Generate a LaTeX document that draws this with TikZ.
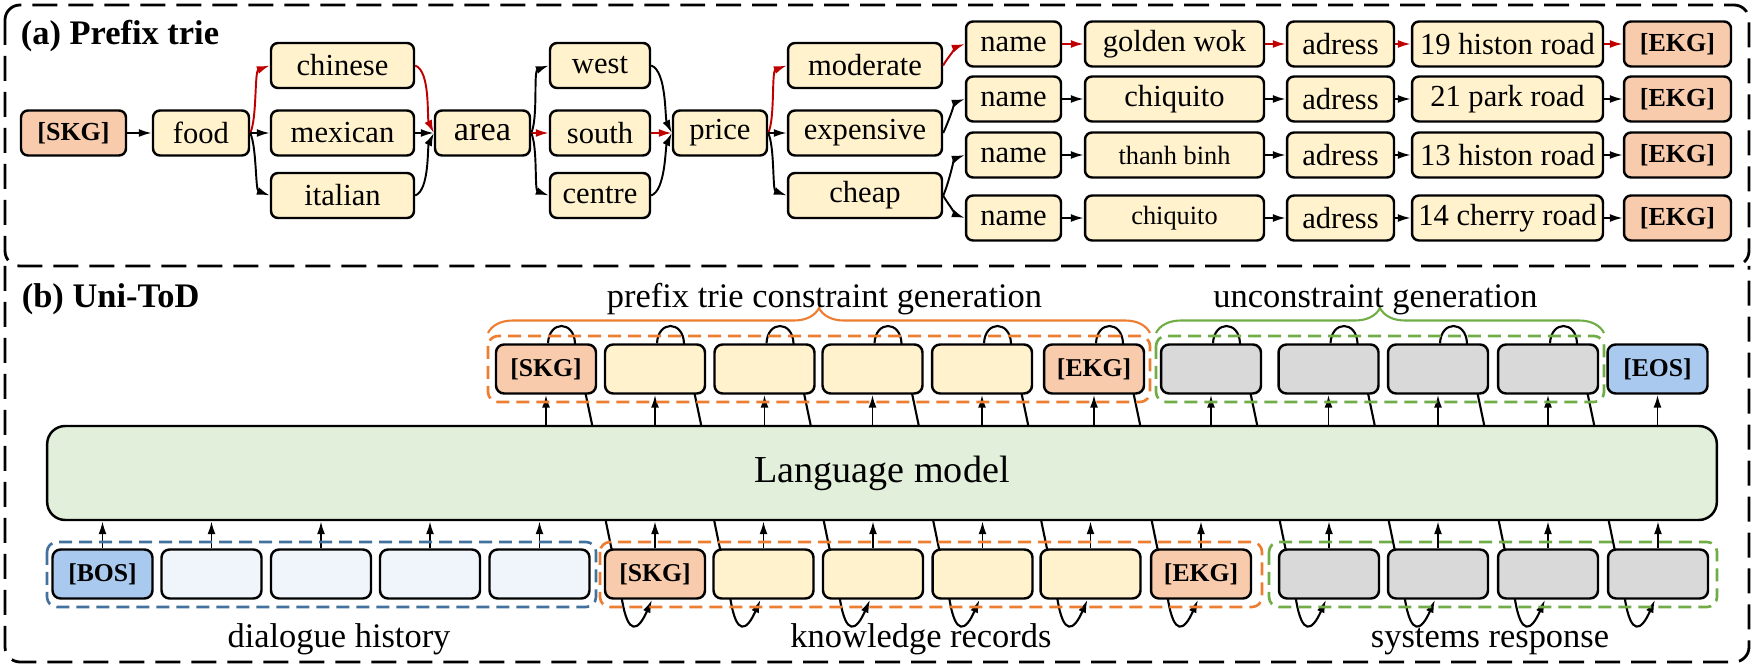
\documentclass[tikz,border=0pt]{standalone}
\usepackage{fontspec}
\setmainfont{Liberation Serif}
\usetikzlibrary{arrows.meta, calc, backgrounds, decorations.pathreplacing}
\tikzset{
every picture/.style={
line width=1pt
}}
\definecolor{trieyellow}{HTML}{FFF2CC}
\definecolor{tagsalmon}{HTML}{F8CBAD}
\definecolor{lmgreen}{HTML}{E2EFDA}
\definecolor{eosblue}{HTML}{A9C9EF}
\definecolor{histblue}{HTML}{F0F5FC}
\definecolor{tokgray}{HTML}{D9D9D9}
\definecolor{grporange}{HTML}{ED7D31}
\definecolor{grpgreen}{HTML}{70AD47}
\definecolor{grpblue}{HTML}{41719C}
\definecolor{pathred}{HTML}{C00000}

\begin{document}
\begin{tikzpicture}[x=0.02cm, y=-0.02cm,
trie/.style = {rectangle, draw=black, line width=1.4pt, rounded corners=0.14cm, fill=trieyellow, minimum height=0.9cm, inner sep=0pt, font=\fontsize{17.4}{20}\selectfont},
tag/.style = {trie, fill=tagsalmon, font=\bfseries\fontsize{14.8}{17}\selectfont},
tok/.style = {rectangle, draw=black, line width=1.4pt, rounded corners=0.16cm, minimum width=2cm, minimum height=0.98cm, inner sep=0pt, font=\bfseries\fontsize{14.6}{17}\selectfont},
arr/.style = {-{Latex[length=0.26cm,width=0.16cm]}, line width=1.1pt},
fanup/.style = {out=65, in=200, looseness=0.6},
fandown/.style = {out=-65, in=160, looseness=0.6},
joinup/.style = {out=20, in=245, looseness=0.6},
joindown/.style = {out=-20, in=115, looseness=0.6},
grp/.style = {dash pattern=on 0.26cm off 0.14cm, line width=1.5pt, rounded corners=0.2cm},
frame/.style = {dash pattern=on 0.5cm off 0.22cm, line width=1.6pt, rounded corners=0.3cm},
head/.style = {anchor=base west, inner sep=0pt, font=\bfseries\fontsize{19.6}{22}\selectfont},
lbl/.style = {anchor=base, inner sep=0pt, font=\fontsize{19.6}{22}\selectfont}]

\useasboundingbox (0,0) rectangle (1755,668);

% (a) prefix trie
\draw[frame] (5,5) rectangle (1749,266);
\node[head] (heada) at (20,45) {(a) Prefix trie};

\node[tag, minimum width=2.1cm] (skg) at (73.5,133) {[SKG]};
\node[trie, minimum width=1.92cm] (food) at (201,133) {food};
\node[trie, minimum width=2.86cm] (chinese) at (342.5,65.5) {chinese};
\node[trie, minimum width=2.86cm] (mexican) at (342.5,133) {mexican};
\node[trie, minimum width=2.86cm] (italian) at (342.5,195.5) {italian};
\node[trie, minimum width=1.9cm, font=\fontsize{19.5}{22}\selectfont] (area) at (482.5,133) {area};
\node[trie, minimum width=2cm] (west) at (600,65.5) {west};
\node[trie, minimum width=2cm] (south) at (600,133) {south};
\node[trie, minimum width=2cm] (centre) at (600,195.5) {centre};
\node[trie, minimum width=1.88cm] (price) at (720,133) {price};
\node[trie, minimum width=3.08cm] (moderate) at (865,65.5) {moderate};
\node[trie, minimum width=3.08cm] (expensive) at (865,133) {expensive};
\node[trie, minimum width=3.08cm] (cheap) at (865,195.5) {cheap};

\foreach \i/\y/\v/\r/\col in {1/44/golden wok/19 histon road/pathred,
  2/99/chiquito/21 park road/black,
  3/155/{\fontsize{15}{18}\selectfont thanh binh}/13 histon road/black,
  4/218/{\fontsize{15}{18}\selectfont chiquito}/14 cherry road/black} {
  \node[trie, minimum width=1.9cm] (name\i) at (1013.5,\y) {name};
  \node[trie, minimum width=3.58cm] (val\i) at (1174.5,\y) {\v};
  \node[trie, minimum width=2.14cm] (adr\i) at (1340.5,\y) {adress};
  \node[trie, minimum width=3.82cm] (road\i) at (1507.5,\y) {\r};
  \node[tag, minimum width=2.14cm] (ekg\i) at (1677.5,\y) {[EKG]};
  \draw[arr, \col] (name\i) -- (val\i);
  \draw[arr, \col] (val\i) -- (adr\i);
  \draw[arr, \col] (adr\i) -- (road\i);
  \draw[arr, \col] (road\i) -- (ekg\i);
}

\draw[arr] (skg) -- (food);
\draw[arr, pathred] (food.east) to[fanup] (chinese.west);
\draw[arr] (food) -- (mexican);
\draw[arr] (food.east) to[fandown] (italian.west);
\draw[arr, pathred] (chinese.east) to[joindown] (area.west);
\draw[arr] (mexican) -- (area);
\draw[arr] (italian.east) to[joinup] (area.west);
\draw[arr] (area.east) to[fanup] (west.west);
\draw[arr, pathred] (area) -- (south);
\draw[arr] (area.east) to[fandown] (centre.west);
\draw[arr] (west.east) to[joindown] (price.west);
\draw[arr, pathred] (south) -- (price);
\draw[arr] (centre.east) to[joinup] (price.west);
\draw[arr, pathred] (price.east) to[fanup] (moderate.west);
\draw[arr] (price) -- (expensive);
\draw[arr] (price.east) to[fandown] (cheap.west);
\draw[arr, pathred] (moderate.east) to[fanup] (name1.west);
\draw[arr] (expensive.east) to[fanup] (name2.west);
\draw[arr] (cheap.east) to[fanup] (name3.west);
\draw[arr] (cheap.east) to[fandown] (name4.west);

% (b) Uni-ToD
\draw[frame] (5,266) -- (5,662) -- (1749,662) -- (1749,266);
\node[head] (headb) at (21,308) {(b) Uni-ToD};

\node[rectangle, draw=black, line width=1.4pt, rounded corners=0.36cm, fill=lmgreen, minimum width=33.4cm, minimum height=1.88cm, font=\fontsize{21.7}{24}\selectfont] (lm) at (882,473) {Language model};

\foreach \n/\x/\c/\t in {t1/546/tagsalmon/[SKG], t2/655/trieyellow/{}, t3/764.5/trieyellow/{},
  t4/872.5/trieyellow/{}, t5/982/trieyellow/{}, t6/1094/tagsalmon/[EKG], t7/1211/tokgray/{},
  t8/1328.5/tokgray/{}, t9/1438/tokgray/{}, t10/1548/tokgray/{}, t11/1657.5/eosblue/[EOS]}
  \node[tok, fill=\c] (\n) at (\x,369) {\t};

\foreach \n/\x/\c/\t in {b1/102.5/eosblue/[BOS], b2/211.5/histblue/{}, b3/321/histblue/{},
  b4/430/histblue/{}, b5/539.5/histblue/{}, b6/655/tagsalmon/[SKG], b7/763.5/trieyellow/{},
  b8/873/trieyellow/{}, b9/982.5/trieyellow/{}, b10/1090.5/trieyellow/{}, b11/1201/tagsalmon/[EKG],
  b12/1329/tokgray/{}, b13/1438/tokgray/{}, b14/1548/tokgray/{}, b15/1658/tokgray/{}}
  \node[tok, fill=\c] (\n) at (\x,574) {\t};

\foreach \i in {1,...,11}
  \draw[arr] (t\i.south |- lm.north) -- (t\i.south);
\foreach \i in {1,...,15}
  \draw[arr] (b\i.north) -- (b\i.north |- lm.south);

% generated token fed back as next input
\begin{scope}[on background layer]
\foreach \i/\j in {1/6, 2/7, 3/8, 4/9, 5/10, 6/11, 7/12, 8/13, 9/14, 10/15}
  \draw[arr, line width=1.2pt] ($(t\i.north)+(2,0)$) .. controls ($(t\i.north)+(3,-23)$) and ($(t\i.north)+(28,-23)$) .. ($(t\i.north)+(29,0)$)
    -- ($(t\i.north)+(46,81)$) -- ($(b\j.north)+(-50,-31)$) -- ($(b\j.south)+(-33,0)$)
    .. controls ($(b\j.south)+(-27,36)$) and ($(b\j.south)+(-17,32)$) .. ($(b\j.south)+(-3,0)$);
\end{scope}

\draw[grp, grporange] (488,336) rectangle (1150,402);
\draw[grp, grpgreen] (1156,336) rectangle (1604,402);
\draw[grp, grpblue] (47,542) rectangle (596,607);
\draw[grp, grporange] (600,542) rectangle (1262,607);
\draw[grp, grpgreen] (1269,542) rectangle (1717,607);

\draw[grporange, line width=1.2pt, decorate, decoration={brace, amplitude=0.5cm}] (488,333) -- (1150,333);
\draw[grpgreen, line width=1.2pt, decorate, decoration={brace, amplitude=0.5cm}] (1156,333) -- (1604,333);

\node[lbl] (ptc) at (824.5,308) {prefix trie constraint generation};
\node[lbl] (ucg) at (1375.5,308) {unconstraint generation};
\node[lbl] (dh) at (339,647) {dialogue history};
\node[lbl] (kr) at (921,647) {knowledge records};
\node[lbl] (sr) at (1490,647) {systems response};

\end{tikzpicture}
\end{document}
